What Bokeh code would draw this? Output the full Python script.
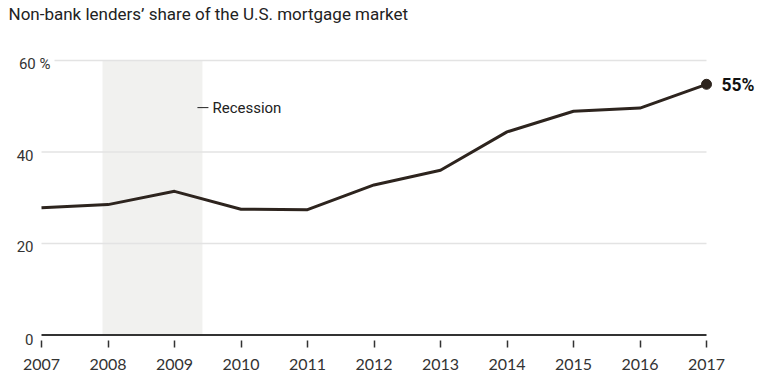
from bokeh.plotting import figure
from bokeh.models import Range1d, FixedTicker, ColumnDataSource
from bokeh.core.properties import value
from bokeh.embed import file_html
from bokeh.resources import INLINE

# ---- data ----
years = [2007, 2008, 2009, 2010, 2011, 2012, 2013, 2014, 2015, 2016, 2017]
share = [27.8, 28.5, 31.4, 27.5, 27.4, 32.8, 36.0, 44.4, 48.9, 49.6, 54.8]
year_labels = ["2007", "2008", "2009", "2010", "2011", "2012", "2013", "2014", "2015", "2016", "2017"]
y_ticks = [60, 40, 20, 0]
y_tick_labels = ["60 %", "40", "20", "0"]
recession_start = 2007.917
recession_end = 2009.42
last_label = "55%"
title_text = "Non-bank lenders\u2019 share of the U.S. mortgage market"

# ---- layout helpers (pixel scale of the reference) ----
PX_PER_YEAR = 66.5
PX_PER_UNIT = 4.575
W, H = 761, 378
FRAME_BOTTOM = 347
ZERO_PX = 334.5
x0 = years[0] - 41 / PX_PER_YEAR
x1 = years[0] + (W - 41) / PX_PER_YEAR
y0 = -(FRAME_BOTTOM - ZERO_PX) / PX_PER_UNIT
y1 = ZERO_PX / PX_PER_UNIT

def px_to_x(px):
    return years[0] + (px - 41) / PX_PER_YEAR

p = figure(width=W, height=H, x_range=Range1d(x0, x1), y_range=Range1d(y0, y1),
           output_backend="svg", toolbar_location=None, y_axis_location=None,
           min_border_left=0, min_border_right=0, min_border_top=0,
           min_border_bottom=H - FRAME_BOTTOM,
           outline_line_color=None, background_fill_color="white", border_fill_color="white")
p.grid.visible = False

LINE_COLOR = "#2d241e"
FONT = "Roboto"

# recession band
p.quad(left=[recession_start], right=[recession_end], bottom=[0], top=[60],
       fill_color="#f1f1ef", line_color=None)

# gridlines
grid_y = [t for t in y_ticks if t != 0]
grid_x0 = [px_to_x(54) if t == max(y_ticks) else px_to_x(41) for t in grid_y]
p.segment(x0=grid_x0, y0=grid_y, x1=[years[-1]] * len(grid_y), y1=grid_y,
          line_color="#e3e3e3", line_width=1.5)

# baseline
p.segment(x0=[px_to_x(41)], y0=[0], x1=[years[-1]], y1=[0], line_color="#333333", line_width=2)

# y tick labels
ylab_src = ColumnDataSource(dict(
    x=[x0] * len(y_ticks), y=y_ticks, text=y_tick_labels,
    xo=[50 if "%" in t else 33 for t in y_tick_labels],
    yo=[3 if t != 0 else 4 for t in y_ticks]))
p.text(x="x", y="y", text="text", x_offset="xo", y_offset="yo", source=ylab_src,
       text_align="right", text_baseline="middle", text_font=value(FONT),
       text_font_size="15px", text_color="#333333")

# recession label
rec_y = 49.7
p.segment(x0=[recession_end - 5 / PX_PER_YEAR], y0=[rec_y], x1=[recession_end + 6 / PX_PER_YEAR], y1=[rec_y],
          line_color="#222222", line_width=1)
p.text(x=[recession_end], y=[rec_y], text=["Recession"], x_offset=10, y_offset=0,
       text_align="left", text_baseline="middle", text_font=value(FONT),
       text_font_size="15px", text_color="#222222")

# main line
p.line(years, share, line_color=LINE_COLOR, line_width=3, line_join="round")
p.scatter([years[-1]], [share[-1]], size=10, fill_color=LINE_COLOR, line_color=LINE_COLOR)
p.text(x=[years[-1]], y=[share[-1]], text=[last_label], x_offset=15, y_offset=1,
       text_align="left", text_baseline="middle", text_font=value(FONT),
       text_font_size="17.5px", text_font_style="bold", text_color="#111111")

# title
p.text(x=[x0], y=[y1], text=[title_text],
       x_offset=8, y_offset=3,
       text_align="left", text_baseline="top", text_font=value(FONT),
       text_font_size="17px", text_color="#222222")

# x axis (ticks drawn inward from the frame edge, so they hang below the baseline)
ax = p.xaxis[0]
ax.ticker = FixedTicker(ticks=years)
ax.major_label_overrides = {y: l for y, l in zip(years, year_labels)}
ax.axis_line_color = None
ax.major_tick_in = 7
ax.major_tick_out = 0
ax.major_tick_line_color = "#333333"
ax.major_tick_line_width = 1.5
ax.minor_tick_line_color = None
ax.major_label_standoff = 11
ax.major_label_text_font = "Lato"
ax.major_label_text_font_size = "16px"
ax.major_label_text_color = "#333333"

open("out.html", "w").write(file_html(p, INLINE))
